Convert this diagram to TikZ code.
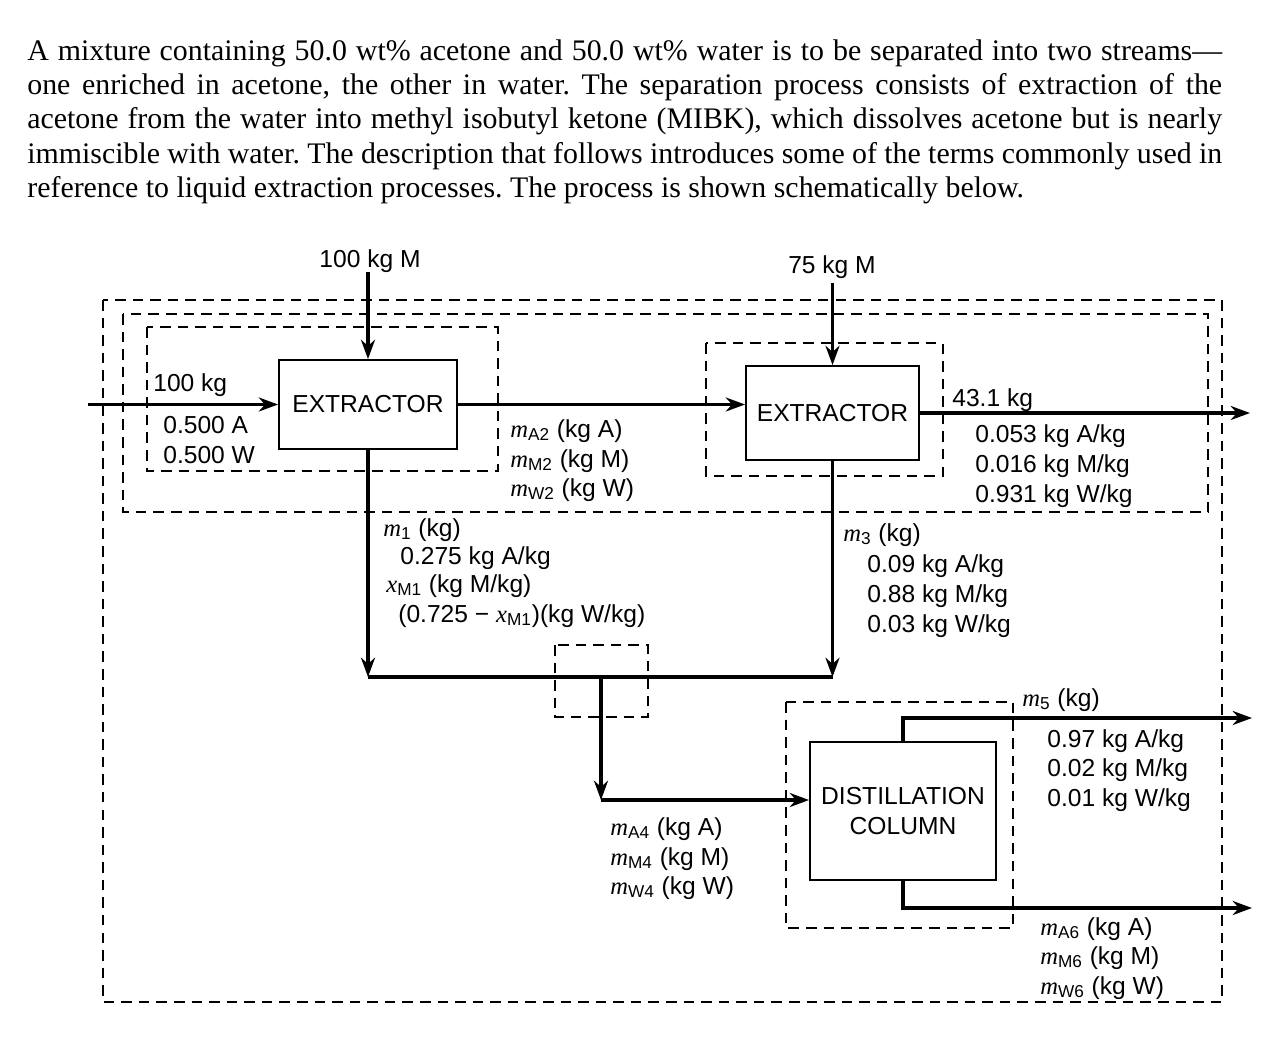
\documentclass[tikz,border=0pt]{standalone}
\usepackage{fontspec}
\setmainfont{Liberation Serif}
\setsansfont{Liberation Sans}
\newfontfamily\itserif{Liberation Serif}
\usetikzlibrary{arrows.meta}
% italic serif mass/fraction symbols with sans subscripts
\newcommand{\mvar}[1]{{\itserif\itshape m}\textsubscript{#1}}
\newcommand{\xvar}[1]{{\itserif\itshape x}\textsubscript{#1}}

\begin{document}
\frenchspacing
\begin{tikzpicture}[x=0.02cm,y=-0.02cm,
  unit/.style={draw, line width=1.1pt, inner sep=0pt, align=center,
    font=\sffamily\fontsize{14}{17}\selectfont},
  pipe/.style={line width=1.8pt},
  flow/.style={line width=1.8pt, -{Stealth[length=11pt,width=8pt]}},
  envelope/.style={line width=0.8pt, dash pattern=on 6pt off 4pt},
  lbl/.style={anchor=base west, inner sep=0pt, font=\sffamily\fontsize{14}{17}\selectfont},
  clbl/.style={anchor=base, inner sep=0pt, font=\sffamily\fontsize{14}{17}\selectfont}]

\useasboundingbox (0,0) rectangle (1278,1041);
\fill[white] (0,0) rectangle (1278,1041);

% problem statement
\node[anchor=north west, inner sep=0pt, text width=23.9cm, align=justify,
      font=\fontsize{17}{19.6}\selectfont] (intro) at (27,39)
 {A mixture containing 50.0 wt\% acetone and 50.0 wt\% water is to be separated into two streams---\linebreak
  one enriched in acetone, the other in water. The separation process consists of extraction of the\linebreak
  acetone from the water into methyl isobutyl ketone (MIBK), which dissolves acetone but is nearly\linebreak
  immiscible with water. The description that follows introduces some of the terms commonly used in\linebreak
  reference to liquid extraction processes. The process is shown schematically below.};

% process units
\node[unit, minimum width=3.56cm, minimum height=1.78cm] (ex1) at (368,404.5) {EXTRACTOR};
\node[unit, minimum width=3.46cm, minimum height=1.88cm] (ex2) at (832.5,413) {EXTRACTOR};
\node[unit, minimum width=3.72cm, minimum height=2.76cm] (col) at (903,811) {DISTILLATION\\COLUMN};

% stream end points and junctions
\coordinate (feed) at (88,404.5);
\coordinate (m100) at (368,272);
\coordinate (m75)  at (832.5,283);
\coordinate (raff) at (1250,413);
\coordinate (j1)   at (368,677);
\coordinate (j3)   at (832.5,677);
\coordinate (mix)  at (601,677);
\coordinate (j4)   at (601,800);
\coordinate (p5)   at (1252,718);
\coordinate (p6)   at (1252,908);

% streams
\draw[flow] (feed) -- (ex1.west);
\draw[flow] (m100) -- (ex1.north);
\draw[flow] (m75) -- (ex2.north);
\draw[flow] (ex1.east) -- (ex1.east -| ex2.west);
\draw[flow] (ex2.east) -- (raff);
\draw[flow] (ex1.south) -- (j1);
\draw[flow] (ex2.south) -- (j3);
\draw[pipe] (j1) -- (j3);
\draw[flow] (mix) -- (j4);
\draw[flow] (j4) -- (j4 -| col.west);
\draw[flow] (col.north) |- (p5);
\draw[flow] (col.south) |- (p6);

% system boundaries
\draw[envelope] (103,300) rectangle (1222,1002);
\draw[envelope] (123,314) rectangle (1208,512);
\draw[envelope] (147,327) rectangle (498,471);
\draw[envelope] (706,343) rectangle (943,476);
\draw[envelope] (555,645) rectangle (648,717);
\draw[envelope] (786,702) rectangle (1013,928);

% stream labels
\node[clbl] (l100m) at (370,267) {100 kg M};
\node[clbl] (l75m) at (832,273) {75 kg M};

\node[lbl] (f1) at (153,391) {100 kg};
\node[lbl] (f2) at (163,433) {0.500 A};
\node[lbl] (f3) at (163,463) {0.500 W};

\node[lbl] (s21) at (510,437) {\mvar{A2} (kg A)};
\node[lbl] (s22) at (510,467) {\mvar{M2} (kg M)};
\node[lbl] (s23) at (510,496) {\mvar{W2} (kg W)};

\node[lbl] (r0) at (952,406) {43.1 kg};
\node[lbl] (r1) at (975,442) {0.053 kg A/kg};
\node[lbl] (r2) at (975,472) {0.016 kg M/kg};
\node[lbl] (r3) at (975,502) {0.931 kg W/kg};

\node[lbl] (a0) at (383,536) {{\itserif\itshape m}\textsubscript{1} (kg)};
\node[lbl] (a1) at (400,564) {0.275 kg A/kg};
\node[lbl] (a2) at (386,592) {\xvar{M1} (kg M/kg)};
\node[lbl] (a3) at (398,622) {(0.725 − \xvar{M1})(kg W/kg)};

\node[lbl] (b0) at (843,541) {{\itserif\itshape m}\textsubscript{3} (kg)};
\node[lbl] (b1) at (867,572) {0.09 kg A/kg};
\node[lbl] (b2) at (867,602) {0.88 kg M/kg};
\node[lbl] (b3) at (867,632) {0.03 kg W/kg};

\node[lbl] (c1) at (610,835) {\mvar{A4} (kg A)};
\node[lbl] (c2) at (610,865) {\mvar{M4} (kg M)};
\node[lbl] (c3) at (610,894) {\mvar{W4} (kg W)};

\node[lbl] (d0) at (1022,706) {{\itserif\itshape m}\textsubscript{5} (kg)};
\node[lbl] (d1) at (1047,747) {0.97 kg A/kg};
\node[lbl] (d2) at (1047,776) {0.02 kg M/kg};
\node[lbl] (d3) at (1047,806) {0.01 kg W/kg};

\node[lbl] (e1) at (1040,935) {\mvar{A6} (kg A)};
\node[lbl] (e2) at (1040,964) {\mvar{M6} (kg M)};
\node[lbl] (e3) at (1040,994) {\mvar{W6} (kg W)};

\end{tikzpicture}
\end{document}
